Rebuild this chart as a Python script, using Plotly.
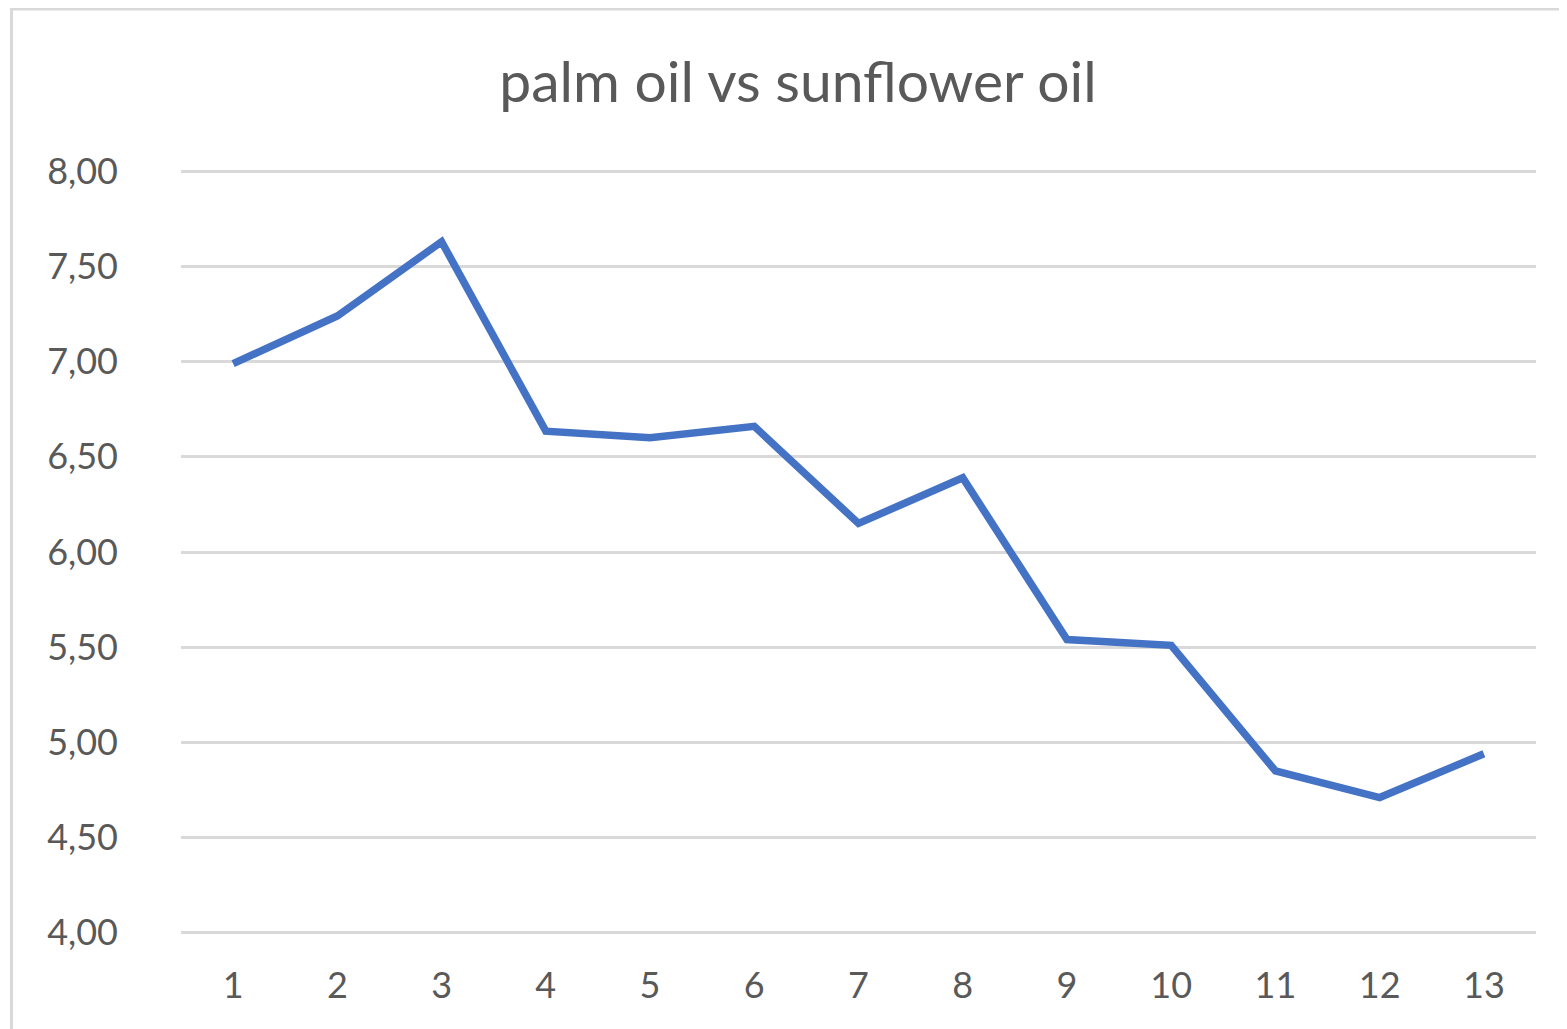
import plotly.graph_objects as go

categories = [str(i) for i in range(1, 14)]
values = [6.99, 7.24, 7.63, 6.635, 6.60, 6.66, 6.15, 6.39, 5.54, 5.51, 4.85, 4.71, 4.94]
y_ticks = [4.0, 4.5, 5.0, 5.5, 6.0, 6.5, 7.0, 7.5, 8.0]
y_min, y_max = 4.0, 8.0

# page body has an 8px offset; figure pixel = screen pixel - 8
OFF = 8
W, H = 1567 - OFF, 1029 - OFF
pad = 0.012  # tiny range pad so edge gridlines are drawn
top_px, bot_px = 171 - OFF, 933 - OFF
ppu = (bot_px - top_px) / (y_max - y_min)
T = top_px - pad * ppu
B = H - (bot_px + pad * ppu)
L = 181 - OFF
R = W - (1536 - OFF)
pw, ph = W - L - R, H - T - B

def px_x(px):
    return (px - OFF - L) / pw

def px_y(py):
    return 1 - (py - OFF - T) / ph

fig = go.Figure()
fig.add_trace(go.Scatter(
    x=categories, y=values, mode="lines",
    line=dict(color="#4472C4", width=7.5), showlegend=False,
))

font_family = "Lato, 'Noto Sans', sans-serif"
fig.update_layout(
    width=W, height=H,
    margin=dict(l=L, r=R, t=T, b=B),
    paper_bgcolor="white", plot_bgcolor="white",
    separators=",.",
    title=dict(text="palm oil vs sunflower oil", x=(798 - OFF) / W, xref="container",
               xanchor="center", y=1 - (82 - OFF) / H, yref="container", yanchor="middle",
               font=dict(family=font_family, size=57, color="#595959")),
    xaxis=dict(type="category", range=[-0.5, 12.5], showgrid=False, showline=False,
               zeroline=False, ticks="",
               tickfont=dict(family=font_family, size=36, color="#595959"),
               ticklabelstandoff=26),
    yaxis=dict(range=[y_min - pad, y_max + pad], tickvals=y_ticks, tickformat=".2f",
               showgrid=True, gridcolor="#d9d9d9", gridwidth=3,
               zeroline=False, showline=False, ticks="",
               tickfont=dict(family=font_family, size=36, color="#595959"),
               ticklabelstandoff=62),
    shapes=[
        dict(type="line", xref="paper", yref="paper",
             x0=px_x(11.5), x1=px_x(11.5), y0=px_y(8), y1=px_y(1040),
             line=dict(color="#d9d9d9", width=3)),
        dict(type="line", xref="paper", yref="paper",
             x0=px_x(10), x1=px_x(1580), y0=px_y(8.5), y1=px_y(8.5),
             line=dict(color="#d9d9d9", width=3)),
    ],
)

fig.write_html("out.html")
